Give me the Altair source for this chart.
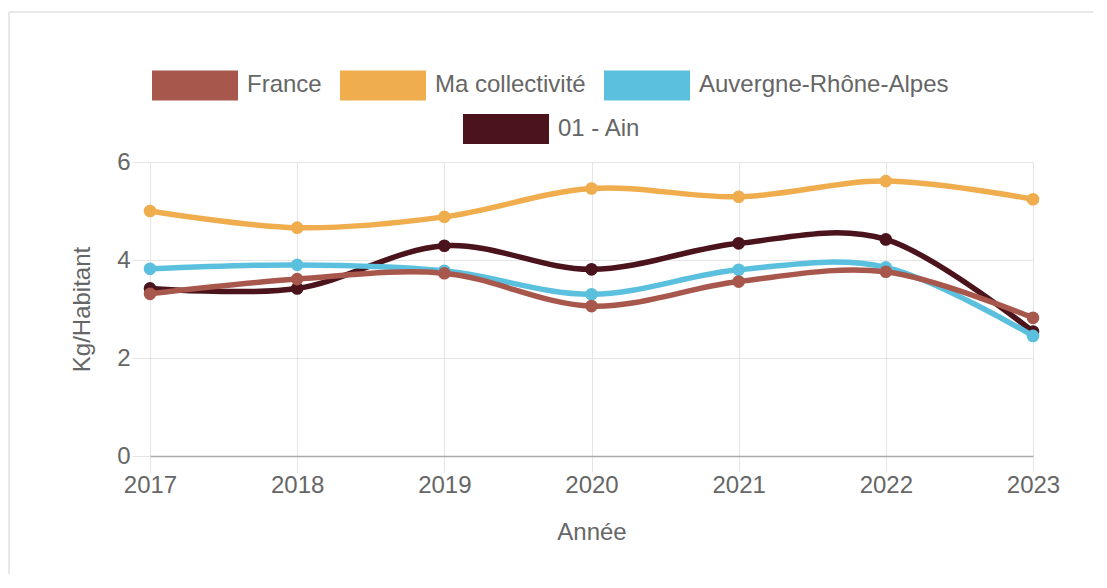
import altair as alt
import pandas as pd

# ---- data ----
years = [2017, 2018, 2019, 2020, 2021, 2022, 2023]
france = [3.31, 3.61, 3.73, 3.06, 3.56, 3.76, 2.82]
ma_collectivite = [5.00, 4.66, 4.88, 5.46, 5.29, 5.61, 5.24]
auvergne = [3.82, 3.90, 3.78, 3.30, 3.80, 3.85, 2.45]
ain = [3.42, 3.42, 4.29, 3.81, 4.34, 4.42, 2.54]

row1_names = ["France", "Ma collectivité", "Auvergne-Rhône-Alpes"]
row1_colors = ["#a8574c", "#f0ad4e", "#5bc0de"]
ain_name = "01 - Ain"
ain_color = "#4b131c"

FONT = "Liberation Sans"
GREY = "#666666"
GRID = "#e5e5e5"

series_values = {
    "France": france,
    "Ma collectivité": ma_collectivite,
    "Auvergne-Rhône-Alpes": auvergne,
    "01 - Ain": ain,
}
series_colors = dict(zip(row1_names, row1_colors))
series_colors[ain_name] = ain_color


def frame(names, col="series"):
    parts = [pd.DataFrame({"year": years, "value": series_values[n], col: n}) for n in names]
    return pd.concat(parts, ignore_index=True)


x_enc = alt.X(
    "year:O",
    scale=alt.Scale(type="point", padding=0),
    axis=alt.Axis(
        title="Année", labelAngle=0, grid=True, gridColor=GRID, tickColor=GRID,
        tickSize=16, domainColor="#aaaaaa", domainWidth=1.5, labelFontSize=24,
        labelColor=GREY, labelPadding=1, labelFont=FONT, titleFont=FONT,
        titleFontSize=24, titleColor=GREY, titleFontWeight="normal",
        titleY=76, titleBaseline="middle",
    ),
)
y_enc = alt.Y(
    "value:Q",
    scale=alt.Scale(domain=[0, 6]),
    axis=alt.Axis(
        title="Kg/Habitant", values=[0, 2, 4, 6], domain=False, grid=True,
        gridColor=GRID, tickColor=GRID, tickSize=18, labelFontSize=24,
        labelColor=GREY, labelPadding=2, labelFont=FONT, titleFont=FONT,
        titleFontSize=24, titleColor=GREY, titleFontWeight="normal",
        titleX=-68, titleY=147, titleBaseline="middle", titleAngle=-90,
    ),
)

RECT = "M-1,-0.349L1,-0.349L1,0.349L-1,0.349Z"

legend_row1 = alt.Legend(
    title="", orient="none", legendX=2, legendY=-120, direction="horizontal",
    symbolType=RECT, symbolSize=7396, symbolStrokeWidth=0, labelFontSize=24,
    labelColor=GREY, labelFont=FONT, labelOffset=9, columnPadding=18, labelLimit=400,
)
legend_row2 = alt.Legend(
    title="", orient="none", legendX=313, legendY=-76, direction="horizontal",
    symbolType=RECT, symbolSize=7396, symbolStrokeWidth=0, symbolFillColor=ain_color,
    labelFontSize=24, labelColor=GREY, labelFont=FONT, labelOffset=9, labelLimit=400,
)

LINE_W = 5.5
PT_SIZE = 160

layers = []

# decorative frame (top and left edges of the card)
frame_df = pd.DataFrame({"a": [0]})
layers.append(
    alt.Chart(frame_df).mark_rule(color="#e8e8e8", strokeWidth=2).encode(
        x=alt.value(-141), x2=alt.value(943), y=alt.value(-150)
    )
)
layers.append(
    alt.Chart(frame_df).mark_rule(color="#e8e8e8", strokeWidth=2).encode(
        x=alt.value(-141), y=alt.value(-150), y2=alt.value(420)
    )
)

# 01 - Ain drawn first (bottom)
ain_df = frame([ain_name], col="zone")
layers.append(
    alt.Chart(ain_df).mark_line(color=ain_color, strokeWidth=LINE_W, interpolate="cardinal")
    .encode(x=x_enc, y=y_enc)
)
layers.append(
    alt.Chart(ain_df).mark_circle(color=ain_color, size=PT_SIZE, opacity=1)
    .encode(
        x=x_enc, y=y_enc,
        opacity=alt.Opacity("zone:N", scale=alt.Scale(domain=[ain_name], range=[1]),
                            legend=legend_row2),
    )
)

# then Auvergne, Ma collectivité, France (France on top)
draw_order = ["Auvergne-Rhône-Alpes", "Ma collectivité", "France"]
for name in draw_order:
    layers.append(
        alt.Chart(frame([name])).mark_line(
            color=series_colors[name], strokeWidth=LINE_W, interpolate="cardinal"
        ).encode(x=x_enc, y=y_enc)
    )

pts_df = frame(draw_order)
layers.append(
    alt.Chart(pts_df).mark_circle(size=PT_SIZE, opacity=1).encode(
        x=x_enc, y=y_enc,
        fill=alt.Fill("series:N", scale=alt.Scale(domain=row1_names, range=row1_colors),
                      legend=legend_row1),
    )
)

chart = (
    alt.layer(*layers)
    .properties(
        width=883, height=294,
        autosize=alt.AutoSizeParams(type="none"),
        padding={"left": 142, "top": 154, "right": 60, "bottom": 118},
        background="white",
    )
    .configure_view(stroke=None)
)

chart.save("out.html", embed_options={"renderer": "svg", "actions": False})
